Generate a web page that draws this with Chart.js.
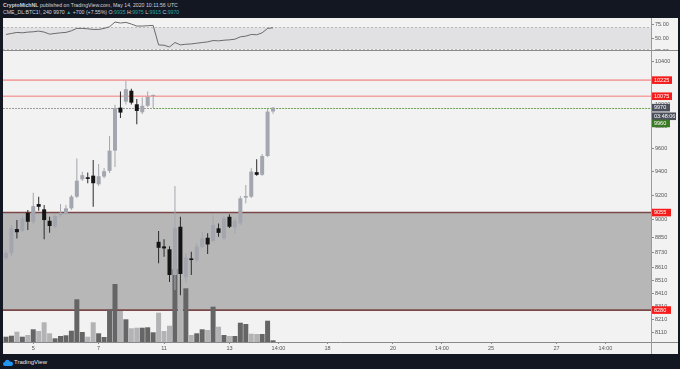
<!DOCTYPE html>
<html lang="en">
<head>
<meta charset="UTF-8">
<title>CME_DL:BTC1!, 240</title>
<script src="https://cdn.jsdelivr.net/npm/chart.js@4/dist/chart.umd.min.js"></script>
<style>
  html, body { margin: 0; padding: 0; }
  body {
    width: 680px; height: 369px; background: #131722;
    position: relative; overflow: hidden;
    font-family: "Liberation Sans", Arial, sans-serif;
  }
  #head { position: absolute; left: 3px; top: 1.5px; color: #d1d4dc; font-size: 5.2px; line-height: 7px; white-space: nowrap; }
  #head .v { color: #26a69a; }
  #panel { position: absolute; left: 3px; top: 18px; width: 675px; height: 336px; background: #f2f2f2; }
  canvas { position: absolute; left: 3px; }
  #rsi { top: 18px; }
  #main { top: 51px; }
  #foot { position: absolute; left: 3px; top: 358px; color: #e0e3eb; font-size: 6px; line-height: 8px; white-space: nowrap; }
  #foot svg { vertical-align: middle; margin-right: 1px; }
</style>
</head>
<body>

<div id="head">
  <div><b>CryptoMichNL</b> published on TradingView.com, May 14, 2020 10:11:56 UTC</div>
  <div>CME_DL:BTC1!, 240 <span id="last"></span> <span class="v">&#9650;</span> +700 (+7.55%) O:<span class="v" id="o"></span> H:<span class="v" id="h"></span> L:<span class="v" id="l"></span> C:<span class="v" id="c"></span></div>
</div>
<div id="panel"></div>
<canvas id="rsi" width="675" height="33"></canvas>
<canvas id="main" width="675" height="303"></canvas>
<div id="foot"><svg width="10" height="7" viewBox="0 0 10 7"><path d="M2 7 Q0 7 0 5 Q0 3.2 1.8 3 Q2.2 0.8 4.4 0.8 Q6.2 0.8 6.8 2.4 Q9.8 2.4 10 4.8 Q10 7 8 7 Z" fill="#2196f3"/></svg>TradingView</div>

<script>
// 4h candles, CME BTC futures, May 4 - May 14 2020
const opens  = [8685, 8723, 8919, 8905, 9053, 8979, 9126, 9082, 8987, 8938, 9034, 9048, 9090, 9188, 9336, 9353, 9367, 9293, 9359, 9408, 9584, 9970, 10025, 10126, 10001, 9928, 9987, 10077, 8815, 8778, 8755, 8551, 8938, 8533, 8682, 8669, 8775, 8848, 8823, 8925, 8843, 9020, 8933, 8966, 9180, 9188, 9397, 9374, 9537, 9935];
const highs  = [8745, 8952, 8993, 9034, 9076, 9221, 9188, 9118, 9020, 9042, 9126, 9118, 9202, 9516, 9400, 9394, 9502, 9468, 9433, 9715, 9996, 10118, 10220, 10144, 10050, 10063, 10120, 10090, 8903, 8835, 8780, 9278, 9020, 8725, 8735, 8805, 8897, 8884, 9034, 8965, 9026, 9042, 9010, 9194, 9287, 9430, 9508, 9554, 9958, 9975];
const lows   = [8670, 8701, 8843, 8895, 8911, 8960, 9070, 8837, 8889, 8927, 9018, 9042, 9076, 9177, 9321, 9302, 9104, 9279, 9345, 9390, 9441, 9876, 10000, 10000, 9820, 9913, 9976, 9967, 8643, 8695, 8496, 8433, 8394, 8488, 8551, 8653, 8765, 8717, 8813, 8856, 8829, 8927, 8884, 8952, 9132, 9177, 9366, 9366, 9528, 9915];
const closes = [8725, 8925, 8893, 9007, 8979, 9109, 9103, 8993, 8944, 9026, 9053, 9090, 9188, 9324, 9371, 9339, 9302, 9362, 9405, 9584, 9966, 9925, 10140, 10016, 9940, 9987, 10069, 10085, 8767, 8762, 8551, 8925, 8559, 8690, 8669, 8775, 8843, 8794, 8952, 8888, 9007, 8938, 8987, 9174, 9194, 9402, 9374, 9537, 9934, 9970];
const volumes = [106, 126, 206, 106, 140, 254, 220, 394, 174, 74, 120, 134, 226, 854, 200, 106, 394, 174, 100, 654, 1160, 620, 454, 274, 286, 286, 294, 194, 586, 220, 326, 1460, 1240, 1074, 140, 174, 254, 240, 706, 306, 140, 120, 120, 386, 360, 166, 160, 160, 426, 34];
const volUp  = [0, 0, 1, 0, 1, 0, 1, 1, 1, 0, 0, 0, 0, 0, 0, 1, 1, 0, 0, 0, 0, 1, 0, 1, 1, 0, 0, 0, 1, 1, 1, 0, 1, 0, 1, 0, 0, 1, 0, 1, 0, 1, 0, 0, 0, 1, 1, 0, 0, 0];
const rsi    = [56.9, 58.8, 60.7, 60.0, 61.3, 61.9, 63.2, 61.3, 57.5, 58.8, 60.0, 60.7, 63.8, 68.2, 68.2, 67.5, 66.3, 66.3, 68.2, 71.3, 80.1, 78.2, 79.4, 76.3, 72.6, 72.6, 73.2, 73.8, 37.5, 36.8, 33.7, 41.9, 37.5, 38.7, 39.3, 40.6, 41.9, 43.1, 45.6, 45.0, 46.2, 46.9, 48.1, 52.5, 53.8, 56.9, 56.3, 60.0, 68.2, 69.4];

// axis ticks
const priceTicks = [8110, 8210, 8310, 8410, 8510, 8610, 8730, 8850, 9000, 9200, 9400, 9600, 9800, 10000, 10200, 10400];
const rsiTicks = [75, 50, 25];
const timeTickPos = [5, 17, 29, 41, 50, 59, 71, 80, 89, 101, 110];
const timeTickLabels = ['5', '7', '11', '13', '14:00', '18', '20', '14:00', '25', '27', '14:00'];

// drawn levels
const resistances = [10225, 10075];
const zoneTop = 9055, zoneBottom = 8280;
const lastPrice = 9970, bidPrice = 9960;
const countdown = '03:48:06';

// header from the last candle
const n = closes.length - 1;
document.getElementById('last').textContent = closes[n];
document.getElementById('o').textContent = opens[n];
document.getElementById('h').textContent = highs[n];
document.getElementById('l').textContent = lows[n];
document.getElementById('c').textContent = closes[n];

const upColor = '#a3a6ae', downColor = '#141414';
const axisFont = { family: '"Liberation Sans", Arial, sans-serif', size: 5.5 };
const xMin = -0.55, xMax = 118.35;
const idx = closes.map((_, i) => i);

function noPad(s) { s.paddingTop = 0; s.paddingBottom = 0; s.paddingLeft = 0; s.paddingRight = 0; }

// ---------- RSI pane ----------
const rsiDeco = {
  id: 'rsiDeco',
  beforeDatasetsDraw(chart) {
    const { ctx, chartArea: a, scales: { y } } = chart;
    const t = y.getPixelForValue(70), b = y.getPixelForValue(30);
    ctx.save();
    ctx.fillStyle = '#e1e1e3';
    ctx.fillRect(a.left, t, a.right - a.left, b - t);
    ctx.strokeStyle = '#b9b9bb';
    ctx.lineWidth = 1;
    ctx.setLineDash([2, 2]);
    [t, b].forEach(p => {
      ctx.beginPath();
      ctx.moveTo(a.left, Math.round(p) + 0.5);
      ctx.lineTo(a.right, Math.round(p) + 0.5);
      ctx.stroke();
    });
    ctx.restore();
  },
  afterDraw(chart) {
    const { ctx } = chart;
    ctx.save();
    ctx.strokeStyle = '#8a8a8a';
    ctx.lineWidth = 1;
    ctx.beginPath();
    ctx.moveTo(0, 32.5);
    ctx.lineTo(chart.width, 32.5);
    ctx.stroke();
    ctx.restore();
  }
};

new Chart(document.getElementById('rsi'), {
  type: 'line',
  data: {
    datasets: [{
      data: idx.map(i => ({ x: i, y: rsi[i] })),
      borderColor: '#6a6a6a',
      borderWidth: 1,
      pointRadius: 0,
      tension: 0
    }]
  },
  options: {
    responsive: false,
    animation: false,
    devicePixelRatio: 1,
    layout: { padding: 0 },
    plugins: { legend: { display: false }, tooltip: { enabled: false } },
    scales: {
      x: { type: 'linear', min: xMin, max: xMax, display: false },
      y: {
        position: 'right',
        min: 26.1,
        max: 87.6,
        afterBuildTicks: s => { s.ticks = rsiTicks.map(v => ({ value: v })); },
        afterFit: s => { s.width = 27; noPad(s); },
        grid: { drawOnChartArea: false, tickLength: 3, color: '#8a8a8a' },
        border: { display: true, color: '#9a9a9a' },
        ticks: { font: axisFont, color: '#555', padding: 1, autoSkip: false, callback: v => v.toFixed(2) }
      }
    }
  },
  plugins: [rsiDeco]
});

// ---------- price pane ----------
const mainDeco = {
  id: 'mainDeco',
  beforeDatasetsDraw(chart) {
    const { ctx, chartArea: a, scales: { x, y } } = chart;
    ctx.save();
    // grey support zone
    const zt = y.getPixelForValue(zoneTop), zb = y.getPixelForValue(zoneBottom);
    ctx.fillStyle = '#b7b7b7';
    ctx.fillRect(a.left, zt, a.right - a.left, zb - zt);
    ctx.strokeStyle = '#7a4848';
    ctx.lineWidth = 1.6;
    [zt, zb].forEach(p => {
      ctx.beginPath(); ctx.moveTo(a.left, p); ctx.lineTo(a.right, p); ctx.stroke();
    });
    // resistance lines
    ctx.strokeStyle = '#f3a2a2';
    ctx.lineWidth = 1.6;
    resistances.forEach(v => {
      const p = y.getPixelForValue(v);
      ctx.beginPath(); ctx.moveTo(a.left, p); ctx.lineTo(a.right, p); ctx.stroke();
    });
    // last price line
    const py = Math.round(y.getPixelForValue(lastPrice)) + 0.5;
    const gx = x.getPixelForValue(27);
    ctx.lineWidth = 1;
    ctx.setLineDash([2, 1]);
    ctx.strokeStyle = '#9c9c9c';
    ctx.beginPath(); ctx.moveTo(a.left, py); ctx.lineTo(gx, py); ctx.stroke();
    ctx.strokeStyle = '#6da052';
    ctx.beginPath(); ctx.moveTo(gx, py); ctx.lineTo(a.right, py); ctx.stroke();
    ctx.restore();
  },
  afterDraw(chart) {
    const { ctx, chartArea: a, scales: { y } } = chart;
    ctx.save();
    // frame lines
    ctx.strokeStyle = '#8a8a8a';
    ctx.lineWidth = 1;
    ctx.beginPath();
    ctx.moveTo(0, a.bottom + 0.5); ctx.lineTo(chart.width, a.bottom + 0.5);
    ctx.stroke();
    ctx.strokeStyle = '#9a9a9a';
    ctx.beginPath();
    ctx.moveTo(a.right + 0.5, 0); ctx.lineTo(a.right + 0.5, chart.height);
    ctx.stroke();
    // price tags
    ctx.font = '5.5px "Liberation Sans", Arial, sans-serif';
    ctx.textBaseline = 'middle';
    const tag = (text, cy, bg, w) => {
      ctx.fillStyle = bg;
      ctx.fillRect(a.right + 1, cy - 3.8, w, 7.6);
      ctx.fillStyle = '#ffffff';
      ctx.fillText(text, a.right + 3, cy + 0.3);
    };
    resistances.forEach(v => tag(String(v), y.getPixelForValue(v), '#f51c1c', 20));
    tag(String(zoneTop), y.getPixelForValue(zoneTop), '#f51c1c', 19);
    tag(String(zoneBottom), y.getPixelForValue(zoneBottom), '#f51c1c', 19);
    const ly = y.getPixelForValue(lastPrice);
    tag(String(lastPrice), ly, '#4b4f5b', 18);
    tag(countdown, ly + 8.6, '#4b4f5b', 24);
    tag(String(bidPrice), ly + 15.8, '#3b7a25', 18);
    ctx.restore();
  }
};

new Chart(document.getElementById('main'), {
  type: 'bar',
  data: {
    datasets: [
      {
        label: 'body',
        data: idx.map(i => ({ x: i, y: [opens[i], closes[i]] })),
        backgroundColor: idx.map(i => closes[i] >= opens[i] ? upColor : downColor),
        barThickness: 4,
        minBarLength: 1,
        yAxisID: 'y',
        order: 1
      },
      {
        label: 'wick',
        data: idx.map(i => ({ x: i, y: [lows[i], highs[i]] })),
        backgroundColor: idx.map(i => closes[i] >= opens[i] ? upColor : '#2a2a2a'),
        barThickness: 1,
        yAxisID: 'y',
        order: 2
      },
      {
        label: 'volume',
        data: idx.map(i => ({ x: i, y: volumes[i] })),
        backgroundColor: idx.map(i => volUp[i] ? '#b3b3b5' : '#656565'),
        barThickness: 5,
        yAxisID: 'vol',
        order: 3
      }
    ]
  },
  options: {
    responsive: false,
    animation: false,
    devicePixelRatio: 1,
    layout: { padding: 0 },
    datasets: { bar: { grouped: false, inflateAmount: 0, borderWidth: 0 } },
    plugins: { legend: { display: false }, tooltip: { enabled: false } },
    scales: {
      x: {
        type: 'linear',
        min: xMin,
        max: xMax,
        offset: false,
        afterBuildTicks: s => { s.ticks = timeTickPos.map(v => ({ value: v })); },
        afterFit: s => { s.height = 12; noPad(s); },
        grid: { offset: false, drawOnChartArea: false, tickLength: 2, color: '#8a8a8a' },
        border: { display: false },
        ticks: {
          font: axisFont, color: '#555', padding: 1, autoSkip: false, maxRotation: 0,
          callback: v => timeTickLabels[timeTickPos.indexOf(v)]
        }
      },
      y: {
        type: 'logarithmic',
        position: 'right',
        min: 8041,
        max: 10502,
        afterBuildTicks: s => { s.ticks = priceTicks.map(v => ({ value: v })); },
        afterFit: s => { s.width = 27; noPad(s); },
        grid: { drawOnChartArea: false, tickLength: 3, color: '#8a8a8a' },
        border: { display: false },
        ticks: { font: axisFont, color: '#555', padding: 1, autoSkip: false, callback: v => String(v) }
      },
      vol: {
        type: 'linear',
        display: false,
        min: 0,
        max: 5820
      }
    }
  },
  plugins: [mainDeco]
});
</script>
</body>
</html>
